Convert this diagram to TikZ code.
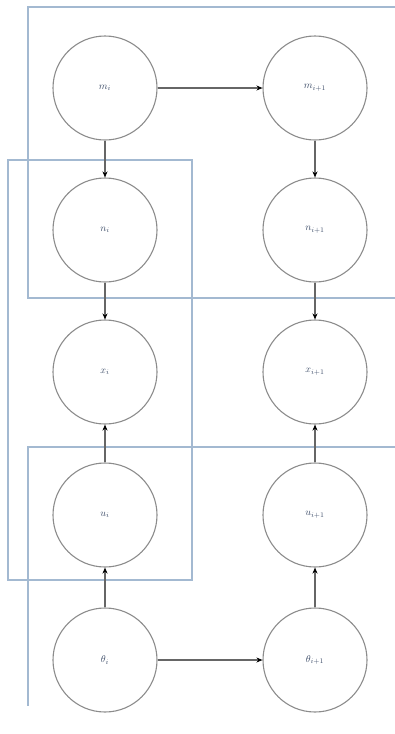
\documentclass[tikz,border=0pt]{standalone}
\usetikzlibrary{arrows.meta}
\definecolor{plate}{HTML}{A3B9D1}
\definecolor{ring}{HTML}{8C8C8C}
\definecolor{lbl}{HTML}{3A4A66}
\begin{document}
\begin{tikzpicture}[x=1pt,y=-1pt,
  var/.style={circle,draw=ring,line width=1.1pt,minimum size=104pt,inner sep=0pt,text=lbl,font=\normalsize},
  edge/.style={draw=black!60,line width=1.2pt,-{Stealth[length=6pt,width=5pt,black]}},
  platebox/.style={draw=plate,line width=1.4pt}]
\useasboundingbox (0,0) rectangle (394,734);
% plates
\draw[platebox] (400,7) -- (28,7) -- (28,298) -- (400,298);
\draw[platebox] (8,160) rectangle (192,580);
\draw[platebox] (400,447) -- (28,447) -- (28,706);
% nodes
\node[var] (m1) at (105,88) {$m_i$};
\node[var] (m2) at (315,88) {$m_{i+1}$};
\node[var] (n1) at (105,230) {$n_i$};
\node[var] (n2) at (315,230) {$n_{i+1}$};
\node[var] (x1) at (105,372) {$x_i$};
\node[var] (x2) at (315,372) {$x_{i+1}$};
\node[var] (u1) at (105,515) {$u_i$};
\node[var] (u2) at (315,515) {$u_{i+1}$};
\node[var] (t1) at (105,660) {$\theta_i$};
\node[var] (t2) at (315,660) {$\theta_{i+1}$};
% edges
\draw[edge] (m1) -- (m2);
\draw[edge] (m1) -- (n1);
\draw[edge] (m2) -- (n2);
\draw[edge] (n1) -- (x1);
\draw[edge] (n2) -- (x2);
\draw[edge] (u1) -- (x1);
\draw[edge] (u2) -- (x2);
\draw[edge] (t1) -- (u1);
\draw[edge] (t2) -- (u2);
\draw[edge] (t1) -- (t2);
\end{tikzpicture}
\end{document}
